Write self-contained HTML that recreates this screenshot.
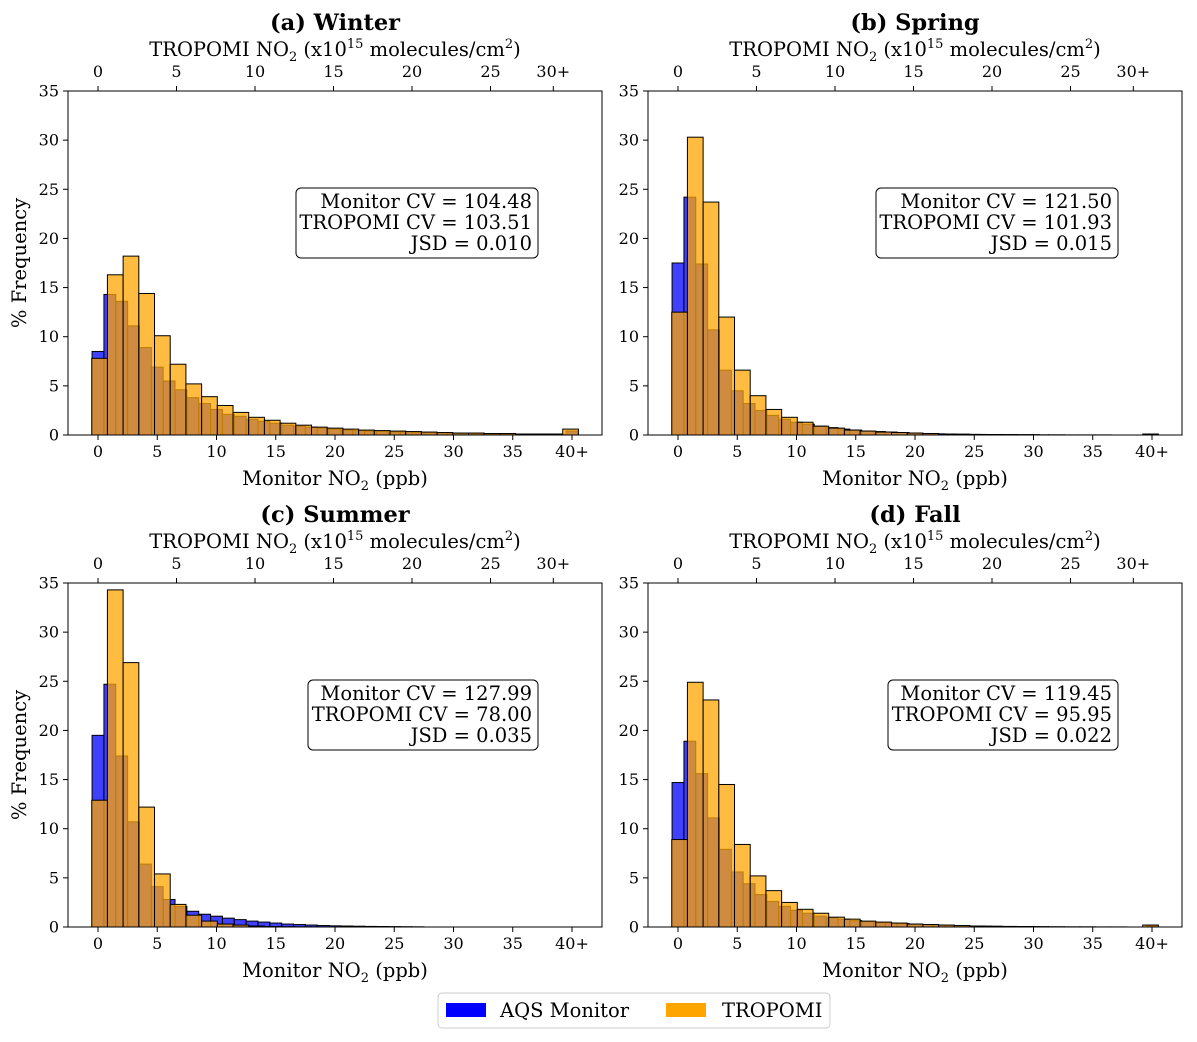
<!DOCTYPE html>
<html><head><meta charset="utf-8">
<style>
body{margin:0;background:#fff;}
svg{display:block;font-family:"DejaVu Serif","Liberation Serif",serif;}
</style></head>
<body>
<svg id="chart" width="1197" height="1042" viewBox="0 0 1197 1042" xmlns="http://www.w3.org/2000/svg"></svg>
<script>
const panelTitles = ["(a) Winter","(b) Spring","(c) Summer","(d) Fall"];
const monitorCV = ["104.48","121.50","127.99","119.45"];
const tropomiCV = ["103.51","101.93","78.00","95.95"];
const jsd = ["0.010","0.015","0.035","0.022"];
const monitorTicks = [0,5,10,15,20,25,30,35,40];
const monitorTickLabels = ["0","5","10","15","20","25","30","35","40+"];
const tropomiTicks = [0,5,10,15,20,25,29];
const tropomiTickLabels = ["0","5","10","15","20","25","30+"];
const yTicks = [0,5,10,15,20,25,30,35];

const winterMonitor = [8.5,14.3,13.6,11.1,8.9,6.9,5.5,4.6,3.8,3.2,2.6,2.1,1.9,1.6,1.4,1.2,1.0,0.9,0.8,0.7,0.6,0.5,0.45,0.4,0.35,0.3,0.3,0.25,0.22,0.2,0.18,0.15,0.12,0.1,0.1,0.1,0.08,0.08,0.06,0.05,0.4];
const winterTropomi = [7.8,16.3,18.2,14.4,10.1,7.2,5.2,3.9,3.0,2.3,1.8,1.5,1.2,1.0,0.8,0.7,0.6,0.5,0.45,0.4,0.35,0.3,0.25,0.2,0.2,0.15,0.15,0.1,0.1,0.1,0.6];
const springMonitor = [17.5,24.2,17.4,10.7,6.6,4.5,3.2,2.5,2.0,1.6,1.3,1.1,0.9,0.75,0.6,0.5,0.4,0.35,0.3,0.25,0.2,0.15,0.12,0.1,0.08,0.06,0.05,0.05,0.04,0.03,0.03,0,0,0,0,0,0,0,0,0,0.05];
const springTropomi = [12.5,30.3,23.7,12.0,6.6,4.0,2.6,1.8,1.3,0.9,0.7,0.5,0.4,0.3,0.25,0.2,0.15,0.1,0.08,0.06,0.05,0.04,0.03,0.02,0.02,0.01,0.01,0.01,0,0,0.1];
const summerMonitor = [19.5,24.7,17.4,10.7,6.4,4.1,2.8,2.1,1.6,1.3,1.1,0.9,0.75,0.6,0.5,0.4,0.3,0.25,0.2,0.15,0.12,0.1,0.08,0.06,0.05,0.04,0.03,0.02,0,0,0,0,0,0,0,0,0,0,0,0,0];
const summerTropomi = [12.9,34.3,26.9,12.2,5.4,2.3,1.2,0.6,0.3,0.2,0.1,0.05,0.03,0.02,0.01,0,0,0,0,0,0,0,0,0,0,0,0,0,0,0,0];
const fallMonitor = [14.7,18.9,15.6,11.1,7.9,5.6,4.4,3.3,2.6,2.1,1.7,1.4,1.1,0.95,0.8,0.65,0.55,0.45,0.4,0.35,0.3,0.25,0.2,0.15,0.12,0.1,0.08,0.06,0.05,0.04,0.03,0,0,0,0,0,0,0,0,0,0.1];
const fallTropomi = [8.9,24.9,23.1,14.5,8.4,5.2,3.7,2.5,1.8,1.4,1.0,0.8,0.6,0.5,0.4,0.3,0.25,0.2,0.15,0.1,0.08,0.06,0.05,0.04,0.03,0.02,0.02,0.01,0.01,0,0.2];

const monitorSeries = [winterMonitor,springMonitor,summerMonitor,fallMonitor];
const tropomiSeries = [winterTropomi,springTropomi,summerTropomi,fallTropomi];

const NS="http://www.w3.org/2000/svg";
const svg=document.getElementById('chart');
function mk(tag,attrs,parent,text){const e=document.createElementNS(NS,tag);for(const k in attrs)e.setAttribute(k,attrs[k]);if(text!==undefined)e.textContent=text;(parent||svg).appendChild(e);return e;}

const panels=[{l:68,t:91},{l:648,t:91},{l:68,t:583},{l:648,t:583}];
const W=534,H=344;
panels.forEach((p,pi)=>{
  const g=mk('g',{});
  
  
  const y=v=>p.t+H-v*H/35;
  const xm=v=>p.l+30+v*11.85;
  const xt=v=>p.l+30+v*15.7;
  const b=p.t+H;
  monitorSeries[pi].forEach((v,i)=>{
    if(v<=0)return;
    const r=mk('rect',{x:xm(i-0.5),y:y(v),width:11.85,height:b-y(v),fill:'rgba(0,0,255,0.75)',stroke:'#000','stroke-width':1},g);
    
    
  });
  tropomiSeries[pi].forEach((v,i)=>{
    if(v<=0)return;
    const r=mk('rect',{x:xt(i-0.4),y:y(v),width:15.7,height:b-y(v),fill:'rgba(255,165,0,0.75)',stroke:'#000','stroke-width':1},g);
    
    
  });
  mk('rect',{x:p.l,y:p.t,width:W,height:H,fill:'none',stroke:'#000','stroke-width':1},g);
  yTicks.forEach(v=>{
    mk('line',{x1:p.l-5,x2:p.l,y1:y(v),y2:y(v),stroke:'#000'},g);
    mk('text',{x:p.l-9,y:y(v)+5.5,'text-anchor':'end','font-size':16},g,String(v));
  });
  monitorTicks.forEach((v,i)=>{
    mk('line',{x1:xm(v),x2:xm(v),y1:b,y2:b+5,stroke:'#000'},g);
    mk('text',{x:xm(v),y:b+22,'text-anchor':'middle','font-size':16},g,monitorTickLabels[i]);
  });
  tropomiTicks.forEach((v,i)=>{
    mk('line',{x1:xt(v),x2:xt(v),y1:p.t-5,y2:p.t,stroke:'#000'},g);
    mk('text',{x:xt(v),y:p.t-14,'text-anchor':'middle','font-size':16},g,tropomiTickLabels[i]);
  });
  const cx=p.l+W/2;
  const tt=mk('text',{x:cx,y:p.t-61,'text-anchor':'middle','font-size':22.5,'font-weight':'bold'},g,panelTitles[pi]);
  
  
  const tl=mk('text',{x:cx,y:p.t-35,'text-anchor':'middle','font-size':19.5},g);
  tl.appendChild(document.createTextNode('TROPOMI NO'));
  mk('tspan',{'font-size':13,dy:5},tl,'2');
  mk('tspan',{dy:-5},tl,' (x10');
  mk('tspan',{'font-size':13,dy:-8},tl,'15');
  mk('tspan',{dy:8},tl,' molecules/cm');
  mk('tspan',{'font-size':13,dy:-8},tl,'2');
  mk('tspan',{dy:8},tl,')');
  const bl=mk('text',{x:cx,y:b+50,'text-anchor':'middle','font-size':19.5},g);
  bl.appendChild(document.createTextNode('Monitor NO'));
  mk('tspan',{'font-size':13,dy:5},bl,'2');
  mk('tspan',{dy:-5},bl,' (ppb)');
  if(pi%2===0){
    const yl=mk('text',{transform:`translate(26,${p.t+H/2}) rotate(-90)`,'text-anchor':'middle','font-size':19.5},g,'% Frequency');
    
    
  }
  const bx=p.l+W-70;
  const boxW=pi===2||pi===3?230:242;
  const box=mk('rect',{x:bx-boxW+6,y:p.t+97,width:boxW,height:70,rx:5,fill:'#fff',stroke:'#000','stroke-width':1},g);
  
  
  ['Monitor CV = '+monitorCV[pi],'TROPOMI CV = '+tropomiCV[pi],'JSD = '+jsd[pi]].forEach((s,i)=>{
    mk('text',{x:bx,y:p.t+117+i*21,'text-anchor':'end','font-size':19.5},g,s);
  });
});
const lg=mk('g',{});


mk('rect',{x:438,y:993,width:392,height:35,rx:4,fill:'#fff',stroke:'#ccc'},lg);
mk('rect',{x:446,y:1003,width:40,height:14,fill:'#0000ff'},lg);
mk('text',{x:500,y:1017,'font-size':19.5},lg,'AQS Monitor');
mk('rect',{x:666,y:1003,width:40,height:14,fill:'#ffa500'},lg);
mk('text',{x:722,y:1017,'font-size':19.5},lg,'TROPOMI');
</script>
</body></html>
